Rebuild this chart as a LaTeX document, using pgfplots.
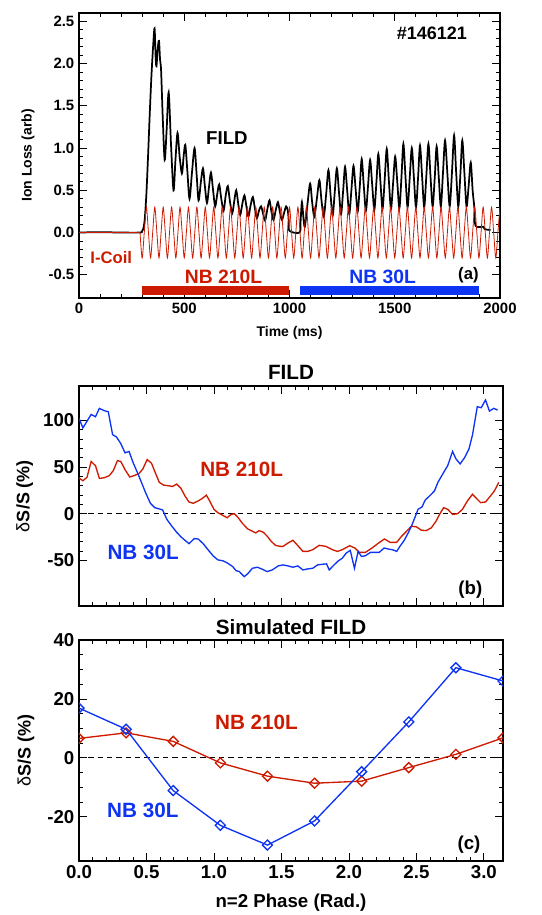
\documentclass[border=0pt]{standalone}
\usepackage{fontspec}
\setmainfont{Liberation Sans}
\usepackage{pgfplots}
\pgfplotsset{compat=1.18}

\definecolor{coilred}{RGB}{204,27,0}
\definecolor{nbblue}{RGB}{13,51,243}

\pgfplotsset{
  idl/.style={
    scale only axis,
    axis line style={line width=0.8pt},
    every tick/.style={black,line width=0.6pt},
    major tick length=6pt,
    minor tick length=3pt,
    tick align=inside,
    clip marker paths=true,
    /pgf/number format/assume math mode=true,
  },
}

\begin{document}
\begin{tikzpicture}
\path[use as bounding box] (0,0) rectangle (406.5pt,-686.25pt);

% (a) ion loss vs time
\begin{axis}[idl,
  at={(59.25pt,-9.75pt)}, anchor=north west,
  width=315.75pt, height=213.75pt,
  xmin=0, xmax=2000, ymin=-0.775, ymax=2.6,
  xtick={0,500,1000,1500,2000},
  xticklabels={0,500,1000,1500,2000},
  ytick={-0.5,0,0.5,1,1.5,2,2.5},
  yticklabels={-0.5,0.0,0.5,1.0,1.5,2.0,2.5},
  minor x tick num=4, minor y tick num=4,
  ticklabel style={font=\fontsize{11.2}{13}\selectfont\bfseries},
  label style={font=\fontsize{10.5}{12}\selectfont\bfseries},
  xlabel={Time (ms)}, ylabel={Ion Loss (arb)},
  xlabel style={at={(axis description cs:0.5,-0.123)},anchor=center},
  ylabel style={at={(axis description cs:-0.121,0.5)},anchor=center},
]
\addplot[black, line width=1.3pt, smooth, tension=0.5] coordinates {
(0,0.0)(100,0.005)(200,0.0)(290,0.0)(298,0.01)(305,0.04)(312,0.15)(320,0.45)
(328,0.9)(336,1.4)(344,1.85)(352,2.2)(359,2.42)(364,2.08)(368,1.97)(374,2.18)
(380,2.27)(385,2.05)(390,1.92)(398,1.35)(407,0.86)(416,1.2)(426,1.66)(437,1.05)
(449,0.50)(458,0.85)(468,1.18)(478,0.9)(489,0.70)(497,0.9)(505,1.04)(515,0.72)
(525,0.40)(537,0.72)(549,1.0)(559,0.68)(568,0.38)(579,0.6)(589,0.76)(598,0.55)
(608,0.35)(618,0.55)(627,0.71)(637,0.5)(647,0.31)(657,0.46)(666,0.57)(676,0.4)
(687,0.26)(697,0.44)(707,0.55)(717,0.37)(728,0.23)(738,0.38)(747,0.50)(757,0.33)
(766,0.21)(776,0.34)(786,0.44)(796,0.3)(805,0.19)(815,0.32)(826,0.42)(836,0.28)
(845,0.17)(855,0.26)(865,0.31)(875,0.22)(884,0.14)(895,0.28)(905,0.38)(914,0.25)
(924,0.15)(935,0.27)(945,0.36)(954,0.25)(964,0.15)(975,0.24)(984,0.31)(992,0.26)
(997,0.12)(1000,0.02)(1048,0.0)(1053,0.15)(1059,0.36)(1066,0.18)(1073,0.07)
(1086,0.35)(1098,0.58)(1108,0.35)(1118,0.19)(1130,0.4)(1142,0.62)(1152,0.38)
(1163,0.19)(1174,0.45)(1185,0.74)(1195,0.45)(1205,0.20)(1215,0.48)(1225,0.76)
(1235,0.48)(1245,0.22)(1255,0.5)(1264,0.78)(1274,0.5)(1284,0.22)(1294,0.5)
(1304,0.79)(1314,0.52)(1324,0.25)(1334,0.55)(1343,0.87)(1353,0.55)(1363,0.26)
(1373,0.55)(1383,0.86)(1393,0.56)(1403,0.27)(1413,0.6)(1422,0.93)(1432,0.6)
(1442,0.28)(1452,0.62)(1462,0.99)(1472,0.62)(1482,0.28)(1492,0.58)(1502,0.90)
(1512,0.6)(1522,0.29)(1532,0.66)(1541,1.05)(1551,0.66)(1561,0.30)(1571,0.64)
(1581,1.00)(1591,0.65)(1601,0.30)(1611,0.66)(1620,1.03)(1630,0.66)(1640,0.30)
(1650,0.67)(1660,1.05)(1670,0.66)(1680,0.31)(1690,0.65)(1699,1.02)(1709,0.66)
(1719,0.31)(1729,0.7)(1739,1.09)(1750,0.7)(1761,0.31)(1772,0.72)(1782,1.15)
(1792,0.7)(1802,0.31)(1812,0.7)(1821,1.09)(1831,0.7)(1841,0.31)(1851,0.55)
(1861,0.83)(1870,0.5)(1878,0.3)(1884,0.08)(1920,0.07)(1928,0.04)(1955,0.03)
};
% I-coil current
\addplot[coilred, line width=0.6pt] coordinates {(0,0)(290,0)};
\addplot[coilred, line width=0.6pt, smooth] coordinates {
(290,0)(300,-.3)(310,0)(320,.3)(330,0)(340,-.3)(350,0)(360,.3)
(370,0)(380,-.3)(390,0)(400,.3)(410,0)(420,-.3)(430,0)(440,.3)
(450,0)(460,-.3)(470,0)(480,.3)(490,0)(500,-.3)(510,0)(520,.3)
(530,0)(540,-.3)(550,0)(560,.3)(570,0)(580,-.3)(590,0)(600,.3)
(610,0)(620,-.3)(630,0)(640,.3)(650,0)(660,-.3)(670,0)(680,.3)
(690,0)(700,-.3)(710,0)(720,.3)(730,0)(740,-.3)(750,0)(760,.3)
(770,0)(780,-.3)(790,0)(800,.3)(810,0)(820,-.3)(830,0)(840,.3)
(850,0)(860,-.3)(870,0)(880,.3)(890,0)(900,-.3)(910,0)(920,.3)
(930,0)(940,-.3)(950,0)(960,.3)(970,0)(980,-.3)(990,0)(1000,.3)
(1010,0)(1020,-.3)(1030,0)(1040,.3)(1050,0)(1060,-.3)(1070,0)(1080,.3)
(1090,0)(1100,-.3)(1110,0)(1120,.3)(1130,0)(1140,-.3)(1150,0)(1160,.3)
(1170,0)(1180,-.3)(1190,0)(1200,.3)(1210,0)(1220,-.3)(1230,0)(1240,.3)
(1250,0)(1260,-.3)(1270,0)(1280,.3)(1290,0)(1300,-.3)(1310,0)(1320,.3)
(1330,0)(1340,-.3)(1350,0)(1360,.3)(1370,0)(1380,-.3)(1390,0)(1400,.3)
(1410,0)(1420,-.3)(1430,0)(1440,.3)(1450,0)(1460,-.3)(1470,0)(1480,.3)
(1490,0)(1500,-.3)(1510,0)(1520,.3)(1530,0)(1540,-.3)(1550,0)(1560,.3)
(1570,0)(1580,-.3)(1590,0)(1600,.3)(1610,0)(1620,-.3)(1630,0)(1640,.3)
(1650,0)(1660,-.3)(1670,0)(1680,.3)(1690,0)(1700,-.3)(1710,0)(1720,.3)
(1730,0)(1740,-.3)(1750,0)(1760,.3)(1770,0)(1780,-.3)(1790,0)(1800,.3)
(1810,0)(1820,-.3)(1830,0)(1840,.3)(1850,0)(1860,-.3)(1870,0)(1880,.3)
(1890,0)(1900,-.3)(1910,0)(1920,.3)(1930,0)(1940,-.3)(1950,0)(1960,.3)
(1970,0)(1980,-.3)(1990,0)(2000,.3)
};
% beam timing bars
\addplot[coilred, line width=6.5pt] coordinates {(300,-0.69)(1000,-0.69)};
\addplot[nbblue, line width=6.5pt] coordinates {(1050,-0.69)(1900,-0.69)};
\node[font=\fontsize{13.5}{15}\selectfont\bfseries] at (axis cs:1676,2.36) {\#146121};
\node[font=\fontsize{14}{16}\selectfont\bfseries] at (axis cs:703,1.12) {FILD};
\node[font=\fontsize{12.5}{14}\selectfont\bfseries, text=coilred] at (axis cs:153,-0.295) {I-Coil};
\node[font=\fontsize{14.5}{16}\selectfont\bfseries, text=coilred] at (axis cs:687,-0.52) {NB 210L};
\node[font=\fontsize{14.5}{16}\selectfont\bfseries, text=nbblue] at (axis cs:1443,-0.52) {NB 30L};
\node[font=\fontsize{12.5}{14}\selectfont\bfseries] at (axis cs:1850,-0.51) {(a)};
\end{axis}

% (b) measured FILD
\begin{axis}[idl,
  at={(59.25pt,-289.5pt)}, anchor=north west,
  width=318pt, height=165pt,
  xmin=0, xmax=3.1416, ymin=-99, ymax=137,
  xtick={0,0.5,1,1.5,2,2.5,3}, xticklabels={},
  ytick={-50,0,50,100}, yticklabels={-50,0,50,100},
  minor x tick num=4, minor y tick num=4,
  ticklabel style={font=\fontsize{14}{16}\selectfont\bfseries},
  title={FILD},
  title style={font=\fontsize{15.5}{17}\selectfont\bfseries, at={(axis description cs:0.5,1.025)}, anchor=center},
  ylabel={{\mdseries δ}S/S (\%)},
  ylabel style={font=\fontsize{13.5}{15}\selectfont\bfseries, at={(axis description cs:-0.128,0.5)}, anchor=center},
]
\addplot[black, line width=0.6pt, dash pattern=on 4pt off 3pt] coordinates {(0,0)(3.1416,0)};
\addplot[coilred, line width=1pt] coordinates {
(0,38.3)(0.029,35.4)(0.059,39.0)(0.090,56.0)(0.122,51.6)(0.151,37.9)(0.188,38.6)
(0.224,40.8)(0.254,46.2)(0.285,57.0)(0.310,56.0)(0.341,47.3)(0.376,39.4)(0.407,40.8)
(0.444,43.0)(0.473,48.0)(0.505,58.1)(0.537,54.2)(0.566,43.7)(0.595,33.6)(0.627,30.7)
(0.663,30.0)(0.693,29.2)(0.724,31.8)(0.756,27.1)(0.785,19.1)(0.815,12.6)(0.846,11.2)
(0.883,13.7)(0.912,16.2)(0.944,19.9)(0.968,13.7)(1.000,4.7)(1.029,1.1)(1.066,-1.8)
(1.098,-4.3)(1.127,-0.7)(1.151,0)(1.180,-4.3)(1.212,-10.5)(1.249,-16.2)(1.285,-18.8)
(1.310,-20.6)(1.334,-18.1)(1.366,-19.9)(1.395,-24.2)(1.424,-29.6)(1.456,-33.9)
(1.488,-35.0)(1.512,-35.0)(1.549,-31.4)(1.585,-28.5)(1.615,-33.2)(1.659,-40.4)
(1.695,-40.4)(1.732,-38.6)(1.780,-33.9)(1.829,-35.0)(1.878,-38.6)(1.915,-40.4)
(1.951,-38.6)(2.005,-34.3)(2.044,-36.8)(2.078,-41.5)(2.122,-41.5)(2.171,-36.8)
(2.220,-31.4)(2.263,-27.1)(2.305,-30.7)(2.354,-30.7)(2.390,-24.2)(2.427,-18.8)
(2.463,-13.4)(2.500,-14.1)(2.537,-17.7)(2.573,-18.1)(2.610,-15.2)(2.646,-7.9)
(2.671,-0.7)(2.702,6.5)(2.732,4.7)(2.768,-0.7)(2.805,0)(2.841,4.7)(2.878,13.7)
(2.915,20.9)(2.939,17.3)(2.976,11.9)(3.012,12.6)(3.049,19.1)(3.078,24.5)(3.110,33.6)
};
\addplot[nbblue, line width=1pt] coordinates {
(0,102.2)(0.029,92.1)(0.090,106.5)(0.122,104.0)(0.151,113.0)(0.188,110.5)(0.217,109.4)
(0.249,84.8)(0.278,82.3)(0.310,75.1)(0.341,65.3)(0.371,66.8)(0.400,55.2)(0.432,44.4)
(0.463,33.6)(0.493,22.7)(0.529,11.2)(0.561,6.5)(0.590,5.4)(0.620,4.0)(0.651,-6.1)
(0.688,-13.4)(0.724,-19.9)(0.756,-24.9)(0.785,-28.5)(0.815,-32.1)(0.854,-26.7)
(0.883,-27.1)(0.920,-32.1)(0.956,-38.6)(0.993,-45.1)(1.029,-49.5)(1.066,-50.5)
(1.102,-53.1)(1.139,-56.7)(1.163,-61.0)(1.188,-62.1)(1.224,-67.5)(1.249,-64.6)
(1.285,-58.5)(1.322,-57.4)(1.359,-59.6)(1.395,-62.1)(1.432,-60.3)(1.476,-56.0)
(1.512,-54.9)(1.549,-56.0)(1.585,-57.4)(1.622,-56.0)(1.659,-60.3)(1.695,-59.2)
(1.732,-58.5)(1.768,-54.9)(1.805,-54.2)(1.834,-53.8)(1.854,-60.3)(1.890,-54.9)
(1.922,-50.5)(1.951,-47.7)(1.980,-42.2)(2.010,-39.4)(2.041,-58.5)(2.068,-40.4)
(2.093,-45.8)(2.122,-45.1)(2.159,-41.5)(2.195,-41.5)(2.224,-41.5)(2.261,-36.8)
(2.293,-37.9)(2.322,-38.6)(2.354,-40.4)(2.378,-35.0)(2.410,-28.5)(2.439,-20.6)
(2.463,-13.4)(2.493,-2.5)(2.512,4.7)(2.541,7.2)(2.566,14.8)(2.598,19.1)(2.634,24.5)
(2.659,33.6)(2.695,42.6)(2.732,51.6)(2.768,66.8)(2.793,58.8)(2.824,53.4)(2.859,60.6)
(2.890,69.7)(2.915,84.1)(2.932,98.6)(2.951,114.8)(2.980,113.7)(3.012,122.0)
(3.041,110.1)(3.073,113.0)(3.102,111.2)
};
\node[font=\fontsize{15.5}{17}\selectfont\bfseries, text=coilred] at (axis cs:1.205,47.9) {NB 210L};
\node[font=\fontsize{15.5}{17}\selectfont\bfseries, text=nbblue] at (axis cs:0.475,-42) {NB 30L};
\node[font=\fontsize{14}{16}\selectfont\bfseries] at (axis cs:2.90,-81.4) {(b)};
\end{axis}

% (c) simulated FILD
\begin{axis}[idl,
  at={(59.25pt,-480pt)}, anchor=north west,
  width=318pt, height=165.75pt,
  xmin=0, xmax=3.1416, ymin=-35, ymax=40,
  xtick={0,0.5,1,1.5,2,2.5,3}, xticklabels={0.0,0.5,1.0,1.5,2.0,2.5,3.0},
  ytick={-20,0,20,40}, yticklabels={-20,0,20,40},
  minor x tick num=4, minor y tick num=3,
  ticklabel style={font=\fontsize{14}{16}\selectfont\bfseries},
  title={Simulated FILD},
  title style={font=\fontsize{15.5}{17}\selectfont\bfseries, at={(axis description cs:0.5,1.021)}, anchor=center},
  ylabel={{\mdseries δ}S/S (\%)},
  ylabel style={font=\fontsize{13.5}{15}\selectfont\bfseries, at={(axis description cs:-0.125,0.5)}, anchor=center},
  xlabel={n=2 Phase (Rad.)},
  xlabel style={font=\fontsize{14}{16}\selectfont\bfseries, at={(axis description cs:0.5,-0.19)}, anchor=center},
]
\addplot[black, line width=0.6pt, dash pattern=on 4pt off 3pt] coordinates {(0,0)(3.1416,0)};
\addplot[coilred, line width=1pt, mark=square, mark size=2.65pt, mark options={rotate=45, solid, fill=none}] coordinates {
(0,6.6)(0.3491,8.5)(0.6981,5.6)(1.0472,-1.7)(1.3963,-6.2)(1.7453,-8.6)(2.0944,-7.9)(2.4435,-3.3)(2.7925,1.2)(3.1416,6.8)
};
\addplot[nbblue, line width=1pt, mark=square, mark size=2.65pt, mark options={rotate=45, solid, fill=none}] coordinates {
(0,16.9)(0.3491,9.7)(0.6981,-11.1)(1.0472,-22.9)(1.3963,-29.6)(1.7453,-21.4)(2.0944,-4.7)(2.4435,12.2)(2.7925,30.6)(3.1416,26.1)
};
\node[font=\fontsize{15.5}{17}\selectfont\bfseries, text=coilred] at (axis cs:1.315,12.2) {NB 210L};
\node[font=\fontsize{15.5}{17}\selectfont\bfseries, text=nbblue] at (axis cs:0.473,-17.7) {NB 30L};
\node[font=\fontsize{14}{16}\selectfont\bfseries] at (axis cs:2.89,-29.6) {(c)};
\end{axis}
\end{tikzpicture}
\end{document}
